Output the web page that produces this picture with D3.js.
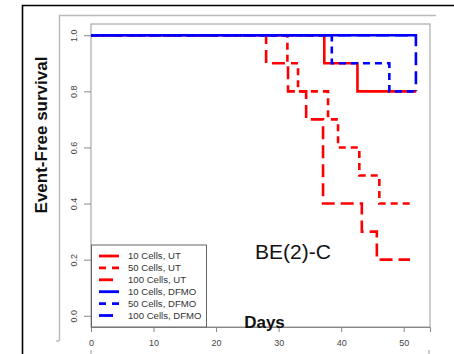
<!DOCTYPE html>
<html>
<head>
<meta charset="utf-8">
<script src="https://cdn.jsdelivr.net/npm/d3@7"></script>
<style>
  body { margin: 0; background: #fff; }
  svg { display: block; font-family: "Liberation Sans", Arial, sans-serif; }
</style>
</head>
<body>
<svg id="chart" width="454" height="354"></svg>
<script>
// Kaplan-Meier step curves (days, survival)
const ut10Days = [0, 37.3, 42.6, 52];
const ut10Surv = [1, 0.9, 0.8, 0.8];
const ut50Days = [0, 31.4, 33.1, 37.9, 39.5, 42.9, 46.1, 51.5];
const ut50Surv = [1, 0.9, 0.8, 0.7, 0.6, 0.5, 0.4, 0.4];
const ut100Days = [0, 28, 31.5, 34.4, 37.1, 43.3, 45.7, 51];
const ut100Surv = [1, 0.9, 0.8, 0.7, 0.4, 0.3, 0.2, 0.2];
const dfmo10Days = [0, 52];
const dfmo10Surv = [1, 1];
const dfmo50Days = [0, 38.5, 47.7, 52];
const dfmo50Surv = [1, 0.9, 0.8, 0.8];
const dfmo100Days = [0, 51.95];
const dfmo100Surv = [1, 0.8];

const legendLabels = ["10 Cells, UT", "50 Cells, UT", "100 Cells, UT",
  "10 Cells, DFMO", "50 Cells, DFMO", "100 Cells, DFMO"];
const xTicks = [0, 10, 20, 30, 40, 50];
const yTicks = [0, 0.2, 0.4, 0.6, 0.8, 1.0];

const series = [
  { name: legendLabels[0], days: ut10Days, surv: ut10Surv, color: "#ff0000", dash: null },
  { name: legendLabels[1], days: ut50Days, surv: ut50Surv, color: "#ff0000", dash: "7,5" },
  { name: legendLabels[2], days: ut100Days, surv: ut100Surv, color: "#ff0000", dash: "13,6" },
  { name: legendLabels[3], days: dfmo10Days, surv: dfmo10Surv, color: "#0000ff", dash: null },
  { name: legendLabels[4], days: dfmo50Days, surv: dfmo50Surv, color: "#0000ff", dash: "7,5" },
  { name: legendLabels[5], days: dfmo100Days, surv: dfmo100Surv, color: "#0000ff", dash: "13,6" }
];

const svg = d3.select("#chart");
const pLeft = 91, pRight = 430, pTop = 24, pBottom = 327;

const x = d3.scaleLinear().domain([0, 54.2]).range([pLeft, pRight]);
const y = d3.scaleLinear().domain([-0.04, 1.04]).range([pBottom, pTop]);

// outer frames
svg.append("path").attr("d", "M22.5,354 V5.5 H454")
  .attr("fill", "none").attr("stroke", "#000").attr("stroke-width", 1.6);
svg.append("path").attr("d", "M59.5,341 V15.5 H436")
  .attr("fill", "none").attr("stroke", "#bbb").attr("stroke-width", 1.5);
svg.append("line").attr("x1", 56).attr("x2", 59).attr("y1", 341).attr("y2", 341).attr("stroke", "#999");
svg.append("line").attr("x1", 91).attr("x2", 91).attr("y1", 350).attr("y2", 354).attr("stroke", "#999");
svg.append("line").attr("x1", 429).attr("x2", 429).attr("y1", 350).attr("y2", 354).attr("stroke", "#999");

// plot box
svg.append("rect").attr("x", pLeft).attr("y", pTop)
  .attr("width", pRight - pLeft).attr("height", pBottom - pTop)
  .attr("fill", "none").attr("stroke", "#aaa").attr("stroke-width", 1.2);

// x axis
const xAxis = svg.append("g").attr("transform", `translate(0,${pBottom})`)
  .call(d3.axisBottom(x).tickValues(xTicks).tickSize(5).tickPadding(8).tickFormat(d3.format("d")));
xAxis.select(".domain").attr("stroke", "#888");
xAxis.selectAll("line").attr("stroke", "#888");
xAxis.selectAll("text").attr("font-size", 9).attr("fill", "#444")
  .attr("font-family", "Liberation Sans, Arial, sans-serif");

// y axis
const yAxis = svg.append("g").attr("transform", `translate(${pLeft},0)`)
  .call(d3.axisLeft(y).tickValues(yTicks).tickSize(7).tickFormat(d3.format(".1f")));
yAxis.select(".domain").remove();
yAxis.selectAll("line").attr("stroke", "#888");
yAxis.selectAll("text")
  .attr("font-size", 9).attr("fill", "#444")
  .attr("font-family", "Liberation Sans, Arial, sans-serif")
  .attr("text-anchor", "middle").attr("x", 0).attr("dy", null)
  .attr("transform", "translate(-14,0) rotate(-90)");

// curves
const line = d3.line().x(d => x(d[0])).y(d => y(d[1])).curve(d3.curveStepAfter);
const curves = svg.append("g").attr("fill", "none");
series.forEach(s => {
  const pts = s.days.map((d, i) => [d, s.surv[i]]);
  curves.append("path")
    .attr("d", line(pts))
    .attr("stroke", s.color)
    .attr("stroke-width", 2.6)
    .attr("stroke-dasharray", s.dash);
});

// legend
const leg = svg.append("g");
leg.append("rect").attr("x", 91.5).attr("y", 245).attr("width", 115).attr("height", 82)
  .attr("fill", "#fff").attr("stroke", "#666").attr("stroke-width", 1);
series.forEach((s, i) => {
  const yy = 256 + i * 11.9;
  leg.append("line").attr("x1", 99).attr("x2", 119).attr("y1", yy).attr("y2", yy)
    .attr("stroke", s.color).attr("stroke-width", 2.8)
    .attr("stroke-dasharray", s.dash ? (s.dash === "7,5" ? "7,6" : "14,8") : null);
  leg.append("text").attr("x", 128).attr("y", yy + 3.4)
    .attr("font-size", 9.6).attr("fill", "#333").text(s.name);
});

// annotations
svg.append("text").attr("x", 293).attr("y", 259).attr("text-anchor", "middle")
  .attr("font-size", 21).attr("fill", "#111").text("BE(2)-C");
svg.append("text").attr("x", 264.5).attr("y", 328).attr("text-anchor", "middle")
  .attr("font-size", 17).attr("font-weight", "bold").attr("fill", "#111").text("Days");
svg.append("text").attr("transform", "translate(47,135) rotate(-90)")
  .attr("text-anchor", "middle").attr("font-size", 17).attr("font-weight", "bold")
  .attr("fill", "#111").text("Event-Free survival");
</script>
</body>
</html>
